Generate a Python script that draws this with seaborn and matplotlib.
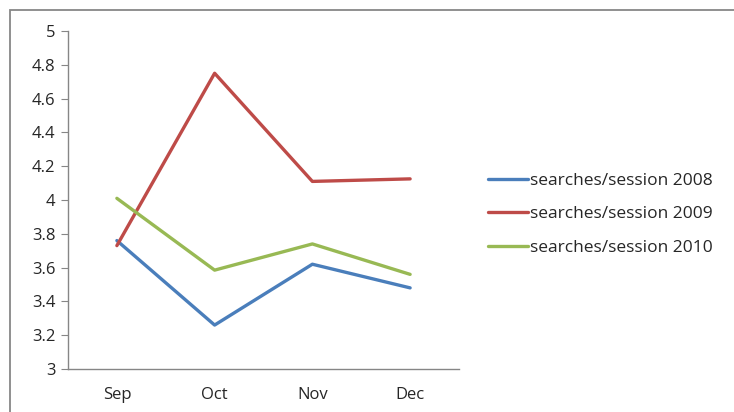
import matplotlib
matplotlib.use("Agg")
import matplotlib.pyplot as plt
import numpy as np
import pandas as pd
import seaborn as sns
from matplotlib.patches import Rectangle

# ── Data ─────────────────────────────────────────────────────────────
months = ["Sep", "Oct", "Nov", "Dec"]
s2008 = [3.76, 3.26, 3.62, 3.48]
s2009 = [3.73, 4.75, 4.11, 4.125]
s2010 = [4.01, 3.585, 3.74, 3.56]
series_names = ["searches/session 2008", "searches/session 2009", "searches/session 2010"]
colors = ["#4A7EBB", "#BE4B48", "#98B954"]
y_ticks = [3, 3.2, 3.4, 3.6, 3.8, 4, 4.2, 4.4, 4.6, 4.8, 5]

df = pd.DataFrame({
    "pos": list(range(len(months))) * 3,
    "value": s2008 + s2009 + s2010,
    "series": np.repeat(series_names, len(months)),
})

sns.set_style("white")
plt.rcParams["font.family"] = ["Open Sans", "DejaVu Sans"]

fig = plt.figure(figsize=(7.34, 4.12), dpi=100)
ax = fig.add_axes([68 / 734, 1 - 369 / 412, (459 - 68) / 734, (369 - 31) / 412])

sns.lineplot(data=df, x="pos", y="value", hue="series", palette=colors,
             linewidth=2.4, ax=ax, legend=False)

axis_grey = "#868686"
text_col = "#262626"
ax.set_xlim(-0.5, len(months) - 0.5)
ax.set_ylim(3, 5)
ax.set_yticks(y_ticks)
ax.set_yticklabels([f"{t:g}" for t in y_ticks], fontsize=12, color=text_col)
ax.set_xticks(range(len(months)))
ax.set_xticklabels(months, fontsize=12, color=text_col)
ax.set_xticks(np.arange(-0.5, len(months)), minor=True)
ax.tick_params(axis="x", which="major", length=0, pad=13)
ax.tick_params(axis="x", which="minor", length=5, color=axis_grey, direction="out")
ax.tick_params(axis="y", length=5, color=axis_grey, direction="out", pad=4, left=True)
ax.set_xlabel("")
ax.set_ylabel("")
for side in ("top", "right"):
    ax.spines[side].set_visible(False)
for side in ("left", "bottom"):
    ax.spines[side].set_color(axis_grey)
    ax.spines[side].set_linewidth(1)

handles = [plt.Line2D([], [], color=c, linewidth=2.4) for c in colors]
fig.legend(handles, series_names, loc="upper left", bbox_to_anchor=(472 / 734, 1 - 157 / 412),
           frameon=False, fontsize=12.5, handlelength=2.3, handletextpad=0.15,
           labelspacing=1.0, labelcolor=text_col)

# chart-area border (right/bottom edges fall outside the picture)
fig.add_artist(Rectangle((10 / 734, -0.1), 1.05, 1.1 - 10 / 412,
                         transform=fig.transFigure, fill=False,
                         edgecolor="#878787", linewidth=1.3))

fig.savefig("out.png", dpi=100)
